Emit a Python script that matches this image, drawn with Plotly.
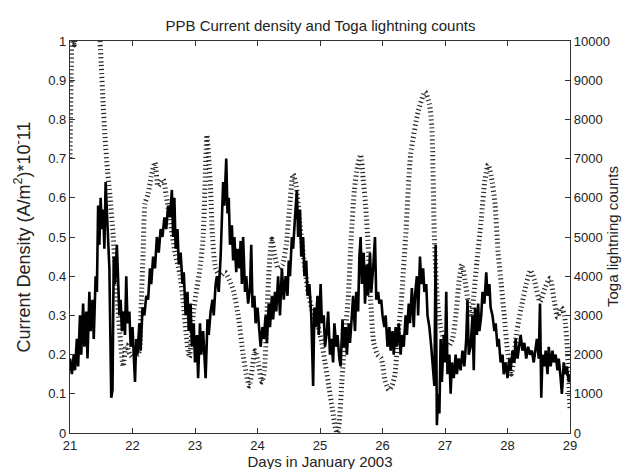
import plotly.graph_objects as go

# Current density (A/m^2)*1e-11 vs day
cd_days = [21.00,21.03,21.06,21.08,21.11,21.13,21.16,21.18,21.21,21.23,21.26,21.28,21.31,21.33,21.36,21.38,21.41,21.43,21.45,21.47,
           21.49,21.51,21.53,21.55,21.57,21.59,21.61,21.63,21.66,21.68,21.70,21.72,21.75,21.77,21.79,21.81,21.83,21.86,21.88,21.90,
           21.92,21.95,21.97,22.00,22.02,22.04,22.06,22.08,22.11,22.13,22.16,22.19,22.22,22.25,22.28,22.30,22.33,22.36,22.39,22.42,
           22.45,22.48,22.51,22.54,22.57,22.60,22.63,22.65,22.67,22.69,22.72,22.74,22.77,22.80,22.82,22.85,22.88,22.90,22.93,22.95,
           22.98,23.00,23.03,23.05,23.08,23.10,23.13,23.15,23.17,23.20,23.22,23.25,23.28,23.30,23.33,23.35,23.38,23.41,23.43,23.45,
           23.47,23.50,23.52,23.54,23.56,23.59,23.61,23.63,23.66,23.68,23.71,23.73,23.75,23.77,23.80,23.82,23.85,23.88,23.90,23.92,
           23.95,23.97,24.00,24.03,24.05,24.08,24.10,24.13,24.15,24.18,24.20,24.23,24.25,24.28,24.30,24.33,24.36,24.39,24.42,24.45,
           24.48,24.50,24.52,24.55,24.57,24.60,24.63,24.65,24.68,24.70,24.73,24.75,24.78,24.80,24.83,24.86,24.89,24.91,24.93,24.96,
           24.98,25.01,25.03,25.06,25.08,25.11,25.13,25.16,25.18,25.21,25.23,25.26,25.28,25.31,25.33,25.36,25.38,25.41,25.43,25.46,
           25.48,25.51,25.53,25.56,25.58,25.61,25.63,25.65,25.67,25.70,25.72,25.75,25.77,25.80,25.82,25.85,25.88,25.90,25.93,25.95,
           25.98,26.00,26.03,26.05,26.08,26.11,26.13,26.16,26.18,26.21,26.23,26.26,26.29,26.31,26.34,26.37,26.39,26.42,26.44,26.47,
           26.50,26.52,26.55,26.57,26.60,26.62,26.65,26.67,26.70,26.72,26.75,26.78,26.80,26.83,26.85,26.87,26.89,26.91,26.93,26.95,
           26.98,27.00,27.02,27.04,27.07,27.09,27.11,27.14,27.17,27.19,27.22,27.25,27.28,27.31,27.34,27.36,27.38,27.41,27.44,27.46,
           27.48,27.51,27.53,27.55,27.58,27.60,27.63,27.66,27.68,27.71,27.73,27.76,27.79,27.81,27.84,27.86,27.89,27.92,27.94,27.97,
           28.00,28.03,28.05,28.08,28.11,28.13,28.16,28.19,28.21,28.24,28.27,28.30,28.33,28.36,28.39,28.42,28.45,28.47,28.50,28.52,
           28.54,28.56,28.59,28.61,28.64,28.66,28.69,28.72,28.74,28.77,28.80,28.82,28.85,28.87,28.90,28.93,28.95,28.98,29.00]
cd_vals = [0.19,0.15,0.20,0.16,0.24,0.17,0.30,0.20,0.33,0.22,0.31,0.19,0.36,0.26,0.34,0.24,0.40,0.36,0.58,0.48,
           0.60,0.52,0.57,0.47,0.64,0.55,0.49,0.42,0.09,0.11,0.45,0.38,0.48,0.40,0.30,0.34,0.26,0.31,0.25,0.40,
           0.28,0.31,0.22,0.27,0.20,0.13,0.24,0.20,0.28,0.21,0.32,0.30,0.35,0.34,0.42,0.38,0.45,0.42,0.50,0.46,
           0.52,0.50,0.55,0.52,0.58,0.55,0.62,0.50,0.60,0.47,0.52,0.43,0.46,0.38,0.41,0.30,0.36,0.26,0.33,0.22,
           0.28,0.18,0.25,0.14,0.28,0.20,0.26,0.18,0.14,0.29,0.25,0.31,0.34,0.30,0.38,0.40,0.36,0.45,0.55,0.64,
           0.58,0.70,0.56,0.60,0.48,0.53,0.44,0.50,0.41,0.47,0.42,0.49,0.38,0.50,0.36,0.40,0.33,0.37,0.48,0.32,
           0.35,0.28,0.32,0.25,0.22,0.27,0.24,0.30,0.23,0.33,0.27,0.35,0.29,0.36,0.31,0.40,0.30,0.42,0.34,0.40,
           0.35,0.44,0.40,0.50,0.47,0.55,0.62,0.50,0.57,0.45,0.50,0.40,0.44,0.35,0.38,0.30,0.12,0.32,0.27,0.35,
           0.25,0.38,0.28,0.30,0.22,0.26,0.31,0.20,0.24,0.18,0.28,0.22,0.25,0.19,0.17,0.29,0.22,0.27,0.20,0.28,
           0.23,0.30,0.35,0.26,0.36,0.31,0.45,0.50,0.38,0.46,0.33,0.43,0.35,0.46,0.36,0.42,0.50,0.34,0.36,0.33,
           0.34,0.30,0.27,0.30,0.22,0.27,0.21,0.26,0.20,0.27,0.22,0.28,0.20,0.25,0.22,0.30,0.25,0.33,0.28,0.37,
           0.27,0.35,0.40,0.30,0.45,0.38,0.42,0.36,0.38,0.30,0.27,0.22,0.18,0.12,0.48,0.02,0.10,0.05,0.24,0.13,
           0.25,0.18,0.36,0.15,0.20,0.10,0.18,0.14,0.20,0.15,0.19,0.16,0.21,0.17,0.24,0.34,0.20,0.22,0.30,0.16,
           0.32,0.25,0.33,0.26,0.30,0.36,0.33,0.41,0.35,0.38,0.32,0.30,0.26,0.28,0.22,0.24,0.18,0.20,0.15,0.18,
           0.14,0.19,0.16,0.21,0.18,0.24,0.19,0.22,0.25,0.21,0.23,0.19,0.22,0.20,0.21,0.18,0.22,0.24,0.19,0.33,
           0.09,0.20,0.17,0.21,0.15,0.22,0.17,0.21,0.18,0.20,0.16,0.19,0.14,0.10,0.18,0.15,0.17,0.13,0.15]

# Toga lightning counts vs day
lt_days = [21.00,21.02,21.04,21.07,21.10,21.20,21.35,21.44,21.48,21.50,21.53,21.56,21.60,21.64,21.69,21.74,21.80,21.85,21.90,21.96,
           22.03,22.08,22.11,22.14,22.17,22.20,22.25,22.30,22.36,22.41,22.49,22.54,22.60,22.68,22.76,22.81,22.86,22.91,22.97,23.03,
           23.08,23.13,23.17,23.19,23.22,23.25,23.28,23.33,23.40,23.48,23.55,23.62,23.70,23.77,23.82,23.87,23.92,23.96,24.01,24.07,
           24.11,24.15,24.19,24.23,24.28,24.33,24.40,24.46,24.51,24.57,24.62,24.68,24.75,24.82,24.90,24.97,25.03,25.08,25.14,25.20,
           25.25,25.28,25.31,25.35,25.40,25.45,25.50,25.55,25.60,25.65,25.69,25.73,25.77,25.81,25.86,25.92,25.98,26.04,26.10,26.15,
           26.20,26.24,26.30,26.37,26.45,26.57,26.68,26.75,26.79,26.83,26.88,26.93,26.98,27.05,27.12,27.18,27.22,27.27,27.32,27.37,
           27.42,27.46,27.50,27.58,27.64,27.69,27.74,27.80,27.85,27.90,27.95,28.00,28.06,28.10,28.15,28.22,28.30,28.37,28.43,28.52,
           28.60,28.68,28.75,28.80,28.86,28.91,28.96,29.00]
lt_vals = [7000,9300,10600,9900,11000,12500,12000,10800,10000,9400,8400,7550,6700,6050,5050,3800,2500,1700,2250,2000,
           1900,2000,2100,3350,4600,5850,6100,6550,6900,6300,6470,6050,5450,4600,4030,3350,2500,1930,3000,3700,
           4200,5000,6800,7600,7000,6200,5000,4200,4000,4100,3900,3600,2900,2000,1500,1200,1700,2100,1800,1300,
           1600,3000,4300,4950,4500,4200,4300,4800,5700,6600,6300,5300,4300,3500,3000,2700,2300,1800,1200,600,
           100,0,300,1300,2500,3400,5000,6200,6800,7100,6500,5800,4800,3400,2300,2000,1900,1340,1100,1200,
           1500,2300,3350,5000,7100,8200,8700,8400,7800,5000,3350,2700,2400,2200,2400,3100,3800,4300,3900,3350,
           2950,3500,4200,5450,6470,6850,6550,5850,4600,3800,2950,2100,1500,1900,2600,3200,3800,4150,3900,3350,
           3700,3950,3350,2950,3200,3000,2100,600]

x_ticks = [21, 22, 23, 24, 25, 26, 27, 28, 29]
left_ticks = [0, 0.1, 0.2, 0.3, 0.4, 0.5, 0.6, 0.7, 0.8, 0.9, 1]
left_tick_text = ["0", "0.1", "0.2", "0.3", "0.4", "0.5", "0.6", "0.7", "0.8", "0.9", "1"]
right_ticks = [0, 1000, 2000, 3000, 4000, 5000, 6000, 7000, 8000, 9000, 10000]
right_tick_text = ["0", "1000", "2000", "3000", "4000", "5000", "6000", "7000", "8000", "9000", "10000"]

FONT = "Liberation Sans, Arial, Helvetica, sans-serif"
TITLE_FONT = dict(family=FONT, size=15, color="#222")

fig = go.Figure()
fig.add_trace(go.Scatter(x=lt_days, y=lt_vals, mode="lines", yaxis="y",
                         line=dict(color="#2a2a2a", width=5, dash="1.2px,2.8px", shape="spline", smoothing=0.6),
                         showlegend=False))
fig.add_trace(go.Scatter(x=cd_days, y=cd_vals, mode="lines", yaxis="y2",
                         line=dict(color="black", width=2.6),
                         showlegend=False))

axis_common = dict(showline=True, linecolor="#333", linewidth=1.3, ticks="inside", ticklen=5,
                   tickcolor="#333", showgrid=False, zeroline=False,
                   tickfont=dict(family=FONT, size=13, color="#222"))

fig.update_layout(
    width=630, height=469,
    margin=dict(l=62, r=68, t=33, b=39),
    paper_bgcolor="white", plot_bgcolor="white",
    title=dict(text="PPB Current density and Toga lightning counts", x=0.496, xanchor="center",
               y=0.962, yanchor="middle", font=TITLE_FONT),
    xaxis=dict(range=[21, 29], tickvals=x_ticks, mirror="ticks",
               title=dict(text="Days in January 2003", font=TITLE_FONT, standoff=2),
               **axis_common),
    yaxis=dict(range=[0, 10000], tickvals=right_ticks, ticktext=right_tick_text, side="right",
               **axis_common),
    yaxis2=dict(range=[0, 1], tickvals=left_ticks, ticktext=left_tick_text, side="left", overlaying="y",
                **axis_common),
    annotations=[
        dict(text="Current Density (A/m<sup>2</sup>)*10<sup>-</sup>11", xref="paper", yref="paper",
             x=-0.095, y=0.5, xanchor="center", yanchor="middle", textangle=-90, showarrow=False,
             font=dict(family=FONT, size=18, color="#222")),
        dict(text="Toga lightning counts", xref="paper", yref="paper",
             x=1.084, y=0.5, xanchor="center", yanchor="middle", textangle=-90, showarrow=False,
             font=TITLE_FONT),
    ],
)

fig.write_html("out.html")
